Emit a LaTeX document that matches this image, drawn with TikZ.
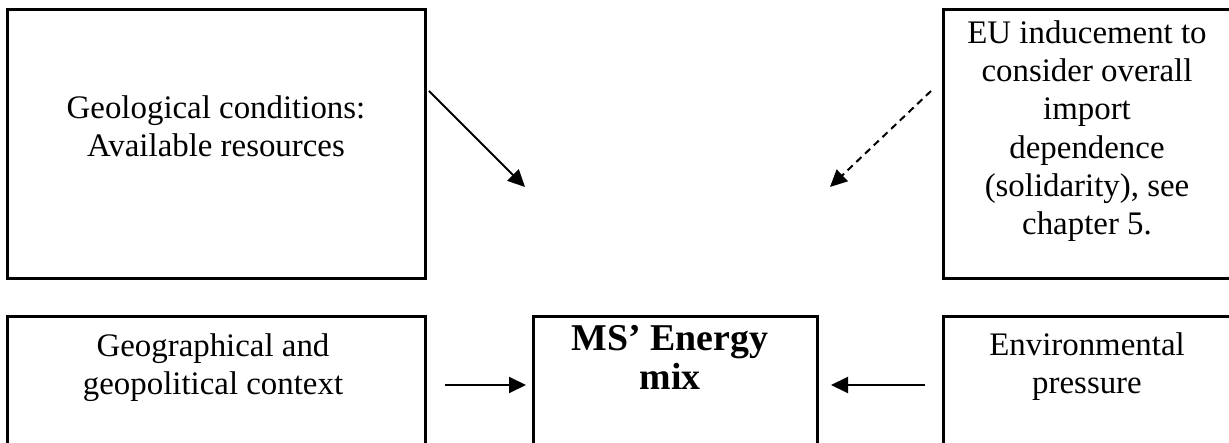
\documentclass[tikz,border=0pt]{standalone}
\usepackage{fontspec}
\setmainfont{Liberation Serif}
\usetikzlibrary{arrows.meta}
\begin{document}
\begin{tikzpicture}[x=1bp,y=-1bp,
  box/.style={draw,line width=3bp,rectangle,inner sep=0pt,outer sep=0pt},
  txt/.style={align=center,inner sep=0pt,anchor=base,font=\fontsize{33}{38.5}\selectfont},
  btxt/.style={align=center,inner sep=0pt,anchor=base,font=\fontsize{38}{40}\selectfont\bfseries},
  arr/.style={line width=2bp,-{Triangle[length=17bp,width=16bp]}}]
\useasboundingbox (0,0) rectangle (1229,443);
\clip (0,0) rectangle (1229,443);
% boxes
\node[box,minimum width=417bp,minimum height=269bp] (geo) at (216.5,144.5) {};
\node[box,minimum width=288bp,minimum height=269bp] (eu) at (1087,144.5) {};
\node[box,minimum width=417bp,minimum height=180bp] (geog) at (216.5,407) {};
\node[box,minimum width=284bp,minimum height=180bp] (mix) at (675,407) {};
\node[box,minimum width=288bp,minimum height=180bp] (env) at (1087,407) {};
% texts (anchored at the baseline of their last line)
\node[txt] (geot) at (216,157) {Geological conditions:\\Available resources};
\node[txt] (eut) at (1087,235) {EU inducement to\\consider overall\\import\\dependence\\(solidarity), see\\chapter 5.};
\node[txt] (geogt) at (213,395) {Geographical and\\geopolitical context};
\node[btxt] (mixt) at (670,390) {MS’ Energy\\mix};
\node[txt] (envt) at (1087,394) {Environmental\\pressure};
% arrow end points
\coordinate (a1s) at (429,91);
\coordinate (a1e) at (525,187);
\coordinate (a2s) at (931,91);
\coordinate (a2e) at (830,187);
\coordinate (a3s) at (445,385);
\coordinate (a3e) at (526,385);
\coordinate (a4s) at (925,385);
\coordinate (a4e) at (831,385);
\draw[arr] (a1s) -- (a1e);
\draw[arr,dash pattern=on 7bp off 5bp] (a2s) -- (a2e);
\draw[arr] (a3s) -- (a3e);
\draw[arr] (a4s) -- (a4e);
\end{tikzpicture}
\end{document}
